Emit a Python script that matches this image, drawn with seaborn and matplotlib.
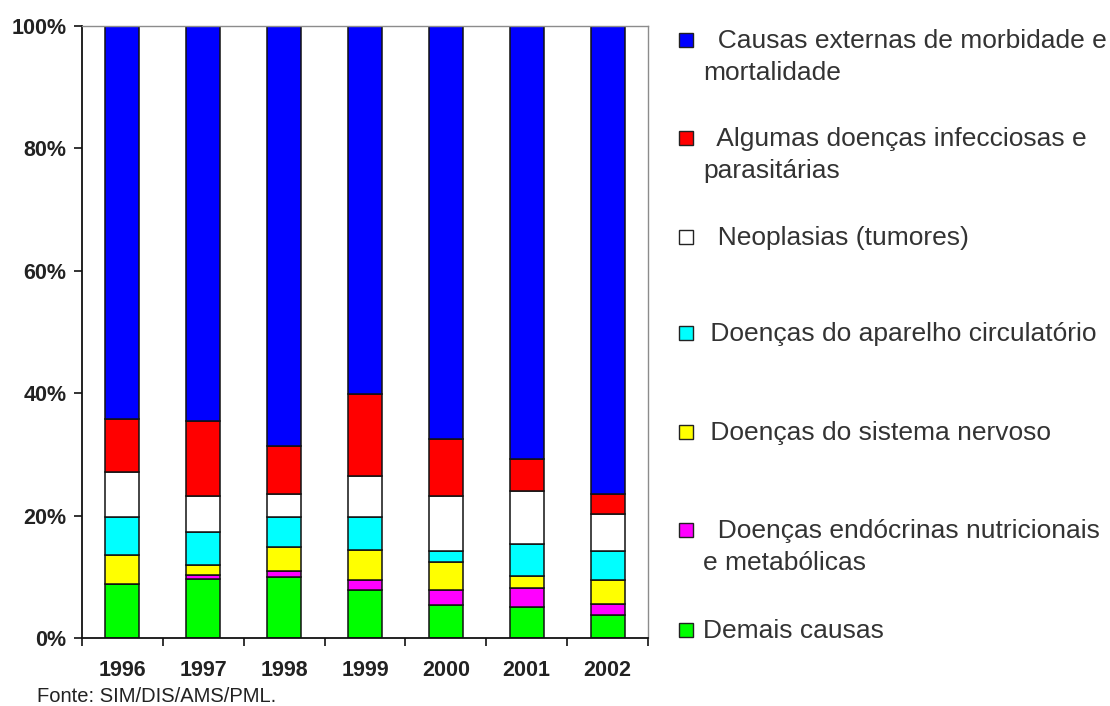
import matplotlib
matplotlib.use("Agg")
import matplotlib.pyplot as plt
from matplotlib.patches import Rectangle
from matplotlib.ticker import FixedLocator, PercentFormatter
import numpy as np
import seaborn as sns

# Years on the x axis
years = ["1996", "1997", "1998", "1999", "2000", "2001", "2002"]

# Share of deaths (%) per cause group, stacked bottom to top
demais = [8.8, 9.6, 10.0, 7.8, 5.4, 5.0, 3.8]
endocrinas = [0.0, 0.7, 1.0, 1.6, 2.4, 3.1, 1.7]
nervoso = [4.8, 1.6, 3.8, 5.0, 4.7, 2.0, 4.0]
circulatorio = [6.2, 5.4, 5.0, 5.4, 1.7, 5.3, 4.7]
neoplasias = [7.4, 5.9, 3.8, 6.7, 9.0, 8.6, 6.0]
infecciosas = [8.6, 12.3, 7.8, 13.4, 9.3, 5.2, 3.4]
externas = [64.2, 64.5, 68.6, 60.1, 67.5, 70.8, 76.4]

layers = [demais, endocrinas, nervoso, circulatorio, neoplasias, infecciosas, externas]
layer_colors = ["#00FF00", "#FF00FF", "#FFFF00", "#00FFFF", "#FFFFFF", "#FF0000", "#0000FF"]

# Legend entries, top to bottom (leading spaces as typed in the source chart)
legend_labels = [
    "  Causas externas de morbidade e\nmortalidade",
    "  Algumas doenças infecciosas e\nparasitárias",
    "  Neoplasias (tumores)",
    " Doenças do aparelho circulatório",
    " Doenças do sistema nervoso",
    "  Doenças endócrinas nutricionais\ne metabólicas",
    "Demais causas",
]
legend_colors = layer_colors[::-1]

y_ticks = [0, 20, 40, 60, 80, 100]
source_note = "Fonte: SIM/DIS/AMS/PML."

sns.set_theme(style="white")
plt.rcParams["font.family"] = ["Liberation Sans", "DejaVu Sans"]

W, H = 1110, 706
fig = plt.figure(figsize=(W / 100, H / 100), dpi=100)
fig.patch.set_facecolor("white")

# Plot area in pixel terms: x 82..648, y 26..638
ax = fig.add_axes([82 / W, 1 - 638 / H, (648 - 82) / W, (638 - 26) / H])

bottom = np.zeros(len(years))
for vals, col in zip(layers, layer_colors):
    sns.barplot(x=years, y=vals, bottom=bottom, color=col, saturation=1,
                width=0.42, edgecolor="#111111", linewidth=1.1,
                errorbar=None, ax=ax)
    bottom = bottom + np.array(vals)

ax.set_xlim(-0.5, len(years) - 0.5)
ax.set_ylim(0, 100)
ax.yaxis.set_major_locator(FixedLocator(y_ticks))
ax.yaxis.set_major_formatter(PercentFormatter(decimals=0))
ax.set_xlabel("")
ax.set_ylabel("")

for s in ["left", "bottom"]:
    ax.spines[s].set_color("#111111")
    ax.spines[s].set_linewidth(1.3)
for s in ["top", "right"]:
    ax.spines[s].set_color("#8c8c8c")
    ax.spines[s].set_linewidth(1.0)

ax.tick_params(axis="y", which="major", direction="out", length=6, width=1.2,
               color="#111111", left=True, pad=5, labelsize=15.5,
               labelcolor="#222222")
# Category labels without ticks; ticks sit on the category boundaries
ax.tick_params(axis="x", which="major", length=0, pad=16, labelsize=15.5,
               labelcolor="#222222")
ax.set_xticks(np.arange(-0.5, len(years)), minor=True)
ax.tick_params(axis="x", which="minor", direction="out", length=6, width=1.2,
               color="#111111", bottom=True)
for lbl in ax.get_xticklabels() + ax.get_yticklabels():
    lbl.set_fontweight("bold")

# Overlay in pixel coordinates for the legend and the source note
ov = fig.add_axes([0, 0, 1, 1], facecolor="none")
ov.set_xlim(0, W)
ov.set_ylim(H, 0)
ov.axis("off")

baselines = [48, 146, 245, 341, 440, 538, 638]
line_gap = 32
for lab, col, yb in zip(legend_labels, legend_colors, baselines):
    ov.add_patch(Rectangle((679, yb - 15), 14, 14, facecolor=col,
                           edgecolor="#222222", linewidth=1.0))
    for i, line in enumerate(lab.split("\n")):
        ov.text(703, yb + i * line_gap, line, fontsize=19, color="#333333",
                ha="left", va="baseline")

ov.text(37, 702, source_note, fontsize=14.5, color="#222222",
        ha="left", va="baseline")

fig.savefig("out.png", dpi=100, facecolor="white")
